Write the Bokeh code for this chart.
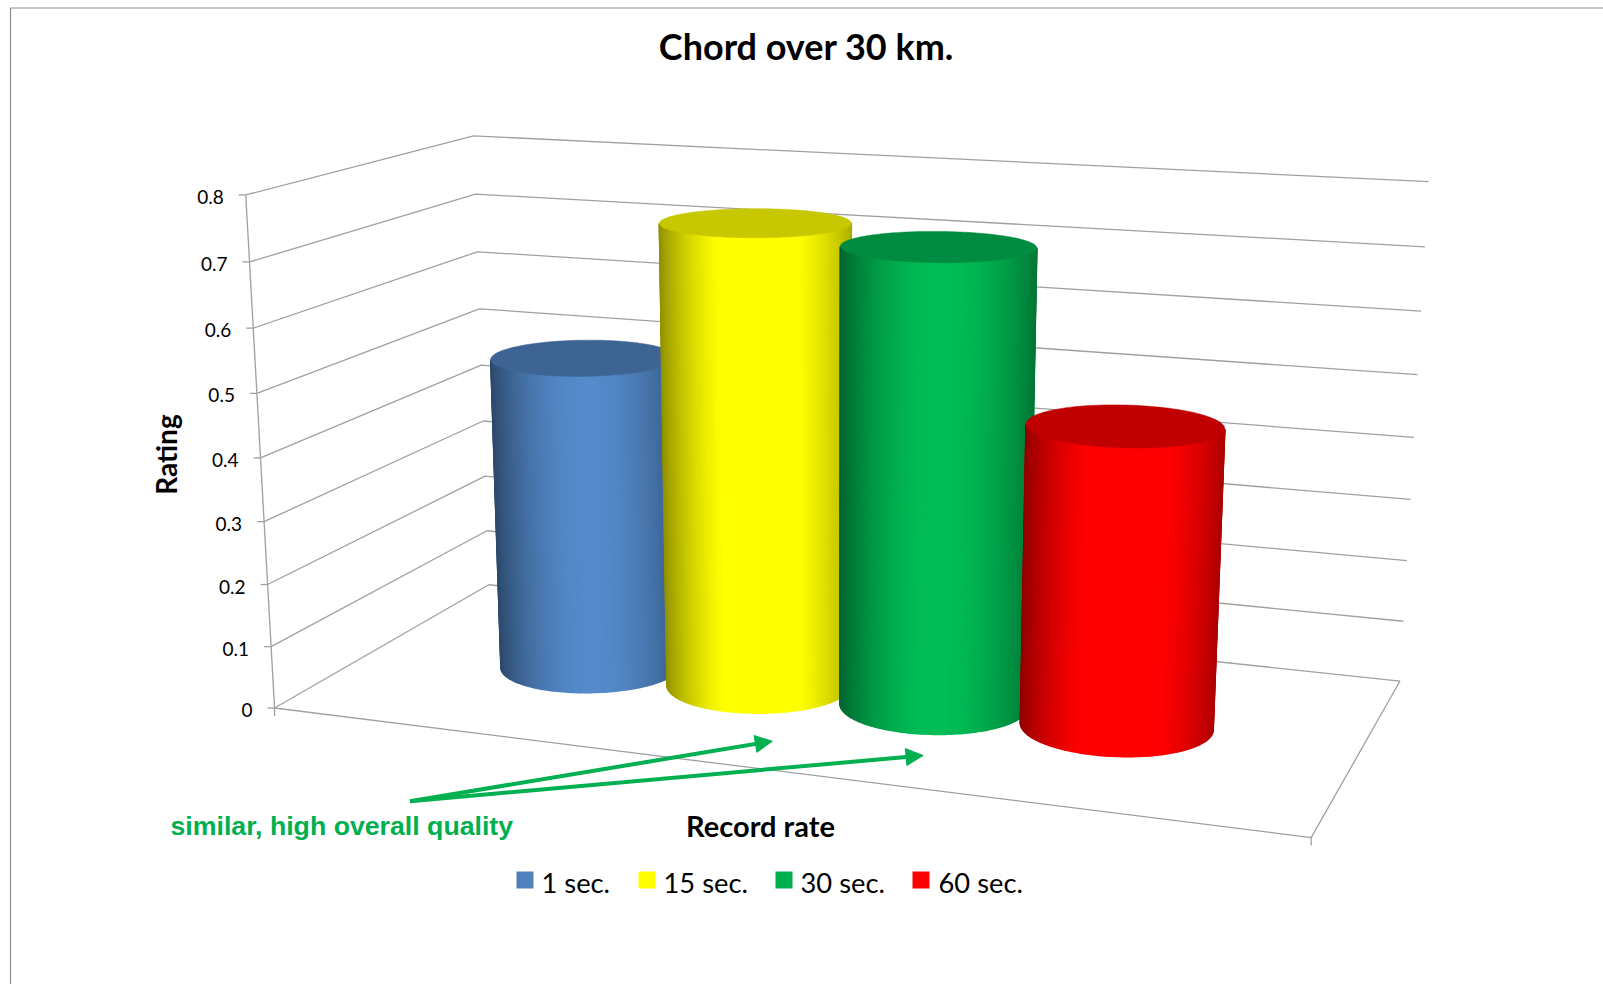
import numpy as np
from bokeh.plotting import figure
from bokeh.models import Range1d, Arrow, NormalHead
from bokeh.core.properties import value
from bokeh.embed import file_html
from bokeh.resources import INLINE

# ---- data ----
title_text = "Chord over 30 km."
x_title = "Record rate"
y_title = "Rating"
note_text = "similar, high overall quality"
series = ["1 sec.", "15 sec.", "30 sec.", "60 sec."]
ratings = [0.51, 0.74, 0.72, 0.469]
ticks = [0, 0.1, 0.2, 0.3, 0.4, 0.5, 0.6, 0.7, 0.8]
tick_labels = ["0", "0.1", "0.2", "0.3", "0.4", "0.5", "0.6", "0.7", "0.8"]
base_colors = [(79, 129, 189), (255, 255, 0), (0, 176, 80), (255, 0, 0)]
top_colors = ["#3e6494", "#c8c800", "#008c40", "#c00000"]
legend_colors = ["#4f81bd", "#ffff00", "#00b050", "#ff0000"]
legend_x = [516, 638, 775, 912]
legend_text_x = [541, 663, 800, 938]

# ---- layout of the 3-D box, in page pixels ----
VMAX = 0.8
anchors_world = [(0, 0, 0), (0, 1, 0), (1, 1, 0), (1, 0, 0), (0, 0, 1), (0, 1, 1), (1, 1, 1)]
anchors_px = [(274, 707.3), (488.3, 584.3), (1399.3, 681), (1311, 836.7),
              (245, 195), (473.3, 135), (1428, 181)]
A = []
for (X, Y, Z), (u, v) in zip(anchors_world, anchors_px):
    A.append([X, Y, Z, 1, 0, 0, 0, 0, -u * X, -u * Y, -u * Z, -u])
    A.append([0, 0, 0, 0, X, Y, Z, 1, -v * X, -v * Y, -v * Z, -v])
P = np.linalg.svd(np.array(A, float))[2][-1].reshape(3, 4)


def proj(X, Y, val):
    X, Y, val = np.broadcast_arrays(np.asarray(X, float), np.asarray(Y, float), np.asarray(val, float))
    pts = np.stack([X, Y, val / VMAX, np.ones_like(X)])
    h = P @ pts.reshape(4, -1)
    return (h[0] / h[2]).reshape(X.shape), (h[1] / h[2]).reshape(X.shape)


p = figure(width=1603, height=984, x_range=Range1d(0, 1603), y_range=Range1d(984, 0),
           output_backend="svg", toolbar_location=None, x_axis_location=None, y_axis_location=None,
           min_border=0, outline_line_color=None, background_fill_color="white",
           margin=(0, 0, 0, 0))
p.xgrid.visible = False
p.ygrid.visible = False

FRAME = "#8c8c8c"
GRID = "#a0a0a0"
p.line([10, 10, 1603], [984, 7.5, 7.5], line_color=FRAME, line_width=1.2)

# walls and floor
for t in ticks:
    xs, ys = proj([0, 0, 1], [0, 1, 1], [t, t, t])
    p.line(xs.tolist(), ys.tolist(), line_color=GRID, line_width=1.3)
    xa, ya = proj(0, 0, t)
    p.line([float(xa) - 7, float(xa)], [float(ya), float(ya)], line_color=GRID, line_width=1.3)

xs, ys = proj([0, 0], [0, 0], [0, VMAX])
p.line(xs.tolist(), ys.tolist(), line_color=GRID, line_width=1.3)
xs, ys = proj([0, 1, 1], [0, 0, 1], [0, 0, 0])
p.line(xs.tolist(), ys.tolist(), line_color=GRID, line_width=1.3)
for X0 in (0, 1):
    xa, ya = proj(X0, 0, 0)
    p.line([float(xa), float(xa)], [float(ya), float(ya) + 8], line_color=GRID, line_width=1.3)

# tick labels
lx, ly = proj(np.zeros(len(ticks)), np.zeros(len(ticks)), np.array(ticks))
p.text((lx - 22).tolist(), (ly + 2).tolist(), text=tick_labels, text_font=value("Lato"),
       text_font_size="19px", text_color="black", text_align="right", text_baseline="middle")

# cylinders
DX = 0.181
RX = 0.0905
RY = 0.193
CX0 = 0.5
CY = 0.5
theta = np.linspace(0, 2 * np.pi, 181)[:-1]


def shade(u):
    u = np.clip(u, 0, 1)
    s = np.sin(np.pi * u ** 1.05)
    low = 0.56 + 0.12 * u
    return low + (1.08 - low) * s ** 0.8


for i, (val, col, top) in enumerate(zip(ratings, base_colors, top_colors)):
    cx = CX0 + (i - 1.5) * DX
    cxs, cys = cx + RX * np.cos(theta), CY + RY * np.sin(theta)
    tx, ty = proj(cxs, cys, val)
    bx, by = proj(cxs, cys, 0)
    mx = (tx + bx) / 2
    th_l = theta[np.argmin(mx)]
    th_r = theta[np.argmax(mx)]
    if th_r < th_l:
        th_r += 2 * np.pi
    th = np.linspace(th_l, th_r, 91)
    sx, sy = cx + RX * np.cos(th), CY + RY * np.sin(th)
    stx, sty = proj(sx, sy, val)
    sbx, sby = proj(sx, sy, 0)
    m = (stx + sbx) / 2
    xs_list, ys_list, colors = [], [], []
    for k in range(len(th) - 1):
        xs_list.append([stx[k], stx[k + 1], sbx[k + 1], sbx[k]])
        ys_list.append([sty[k], sty[k + 1], sby[k + 1], sby[k]])
        u = ((m[k] + m[k + 1]) / 2 - m[0]) / (m[-1] - m[0])
        f = shade(u)
        c = [int(min(255, v * f)) for v in col]
        colors.append("#%02x%02x%02x" % tuple(c))
    p.patches(xs_list, ys_list, fill_color=colors, line_color=colors, line_width=1.6)
    p.patch(tx.tolist(), ty.tolist(), fill_color=top, line_color=top, line_width=0.5)

# annotation arrows
NOTE_GREEN = "#00b050"
arrow_start = (409.5, 800.7)
arrow_tips = [(771.8, 740.7), (922.6, 755)]
for tip in arrow_tips:
    p.add_layout(Arrow(end=NormalHead(size=17, fill_color=NOTE_GREEN, line_color=NOTE_GREEN),
                       x_start=arrow_start[0], y_start=arrow_start[1], x_end=tip[0], y_end=tip[1],
                       line_color=NOTE_GREEN, line_width=4))

# texts
p.text([806], [45], text=[title_text], text_font=value("Lato"), text_font_size="36px",
       text_font_style="bold", text_align="center", text_baseline="middle", text_color="black")
p.text([760], [825], text=[x_title], text_font=value("Lato"), text_font_size="29px",
       text_font_style="bold", text_align="center", text_baseline="middle", text_color="black")
p.text([165], [454], text=[y_title], angle=np.pi / 2, text_font=value("Lato"), text_font_size="28px",
       text_font_style="bold", text_align="center", text_baseline="middle", text_color="black")
p.text([170], [825], text=[note_text], text_font=value("Liberation Sans"), text_font_size="26.7px",
       text_font_style="bold", text_align="left", text_baseline="middle", text_color=NOTE_GREEN)

# legend
p.quad(left=legend_x, right=[x + 17 for x in legend_x], top=[871] * 4, bottom=[888] * 4,
       fill_color=legend_colors, line_color=None)
p.text(legend_text_x, [882] * 4, text=series, text_font=value("Lato"), text_font_size="27.3px",
       text_align="left", text_baseline="middle", text_color="black")

open("out.html", "w").write(file_html(p, INLINE))
